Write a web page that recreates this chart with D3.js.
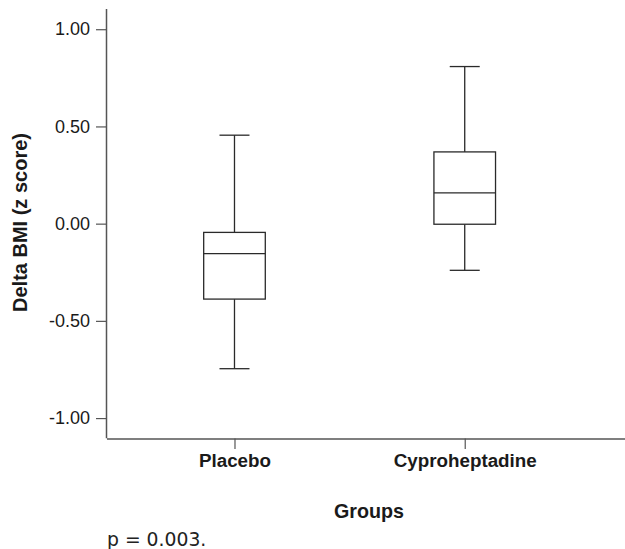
<!DOCTYPE html>
<html>
<head>
<meta charset="utf-8">
<script src="https://cdn.jsdelivr.net/npm/d3@7"></script>
<style>
  html, body { margin: 0; padding: 0; background: #fff; }
  svg { display: block; }
</style>
</head>
<body>
<svg id="chart" width="625" height="549"></svg>
<script>
// ---- data ----
const groups = ["Placebo", "Cyproheptadine"];
const whiskerLow  = [-0.746, -0.240];
const quartile1   = [-0.388, -0.003];
const medians     = [-0.154,  0.158];
const quartile3   = [-0.045,  0.369];
const whiskerHigh = [ 0.455,  0.808];
const yTicks = [-1.0, -0.5, 0.0, 0.5, 1.0];
const yTitle = "Delta BMI (z score)";
const xTitle = "Groups";
const note = "p = 0.003.";

const svg = d3.select("#chart");
const axisColor = "#555";
const boxColor = "#2a2a2a";

const y = d3.scaleLinear().domain([-1.104, 1.104]).range([438.3, 9]);
const x = d3.scalePoint().domain(groups).range([106.5, 625]).padding(0.626).align(0.444);

const boxHalf = 30.8, capHalf = 15;
const fmt = d3.format(".2f");

// y axis
const yAxis = svg.append("g")
  .attr("transform", "translate(106.5,0)")
  .call(d3.axisLeft(y).tickValues(yTicks).tickSize(10.5).tickPadding(6)
        .tickFormat(d => fmt(d).replace("\u2212", "-")));
yAxis.select(".domain").remove();
yAxis.selectAll(".tick line").attr("stroke", axisColor).attr("stroke-width", 1.2);
yAxis.selectAll(".tick text")
  .attr("fill", "#1a1a1a")
  .style("font-family", "'Liberation Sans', Arial, sans-serif")
  .style("font-size", "18px");
svg.append("line")
  .attr("x1", 106.5).attr("x2", 106.5)
  .attr("y1", y.range()[1]).attr("y2", y.range()[0])
  .attr("stroke", axisColor).attr("stroke-width", 1.5);

// x axis
const xAxis = svg.append("g")
  .attr("transform", "translate(0,438.5)")
  .call(d3.axisBottom(x).tickSize(10.5).tickSizeOuter(0).tickPadding(5));
xAxis.select(".domain").attr("stroke", axisColor).attr("stroke-width", 1.5);
xAxis.selectAll(".tick line").attr("stroke", axisColor).attr("stroke-width", 1.2);
xAxis.selectAll(".tick text")
  .attr("fill", "#1a1a1a")
  .style("font-family", "'Liberation Sans', Arial, sans-serif")
  .style("font-weight", "bold")
  .style("font-size", "18.8px");

// boxes
const data = groups.map((g, i) => ({
  g, lo: whiskerLow[i], q1: quartile1[i], med: medians[i], q3: quartile3[i], hi: whiskerHigh[i]
}));
const bg = svg.append("g").attr("fill", "none").attr("stroke", boxColor).attr("stroke-width", 1.3);
data.forEach(d => {
  const cx = x(d.g);
  // whiskers
  bg.append("line").attr("x1", cx).attr("x2", cx).attr("y1", y(d.q3)).attr("y2", y(d.hi));
  bg.append("line").attr("x1", cx).attr("x2", cx).attr("y1", y(d.q1)).attr("y2", y(d.lo));
  bg.append("line").attr("x1", cx - capHalf).attr("x2", cx + capHalf).attr("y1", y(d.hi)).attr("y2", y(d.hi));
  bg.append("line").attr("x1", cx - capHalf).attr("x2", cx + capHalf).attr("y1", y(d.lo)).attr("y2", y(d.lo));
  // box
  bg.append("rect")
    .attr("x", cx - boxHalf).attr("width", boxHalf * 2)
    .attr("y", y(d.q3)).attr("height", y(d.q1) - y(d.q3))
    .attr("fill", "#fff");
  bg.append("line").attr("x1", cx - boxHalf).attr("x2", cx + boxHalf).attr("y1", y(d.med)).attr("y2", y(d.med));
});

// titles
svg.append("text")
  .attr("transform", "translate(26.5,222.5) rotate(-90)")
  .attr("text-anchor", "middle")
  .attr("fill", "#1a1a1a")
  .style("font-family", "'Liberation Sans', Arial, sans-serif")
  .style("font-weight", "bold")
  .style("font-size", "20px")
  .text(yTitle);

svg.append("text")
  .attr("x", 369).attr("y", 518.3)
  .attr("text-anchor", "middle")
  .attr("fill", "#1a1a1a")
  .style("font-family", "'Liberation Sans', Arial, sans-serif")
  .style("font-weight", "bold")
  .style("font-size", "19.7px")
  .text(xTitle);

svg.append("text")
  .attr("x", 107).attr("y", 546)
  .attr("fill", "#222")
  .style("font-family", "'DejaVu Sans', Verdana, sans-serif")
  .style("font-size", "18.8px")
  .text(note);
</script>
</body>
</html>
